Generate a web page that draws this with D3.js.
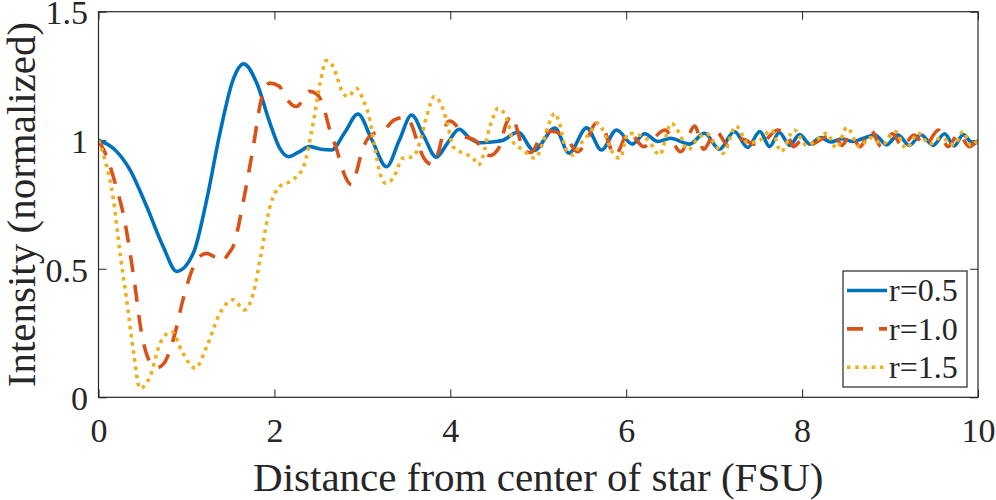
<!DOCTYPE html>
<html>
<head>
<meta charset="utf-8">
<script src="https://cdn.jsdelivr.net/npm/d3@7"></script>
<style>
  body { margin: 0; background: #fff; }
  svg { display: block; }
  text { font-family: "Liberation Serif", "Times New Roman", serif; fill: #262626; }
</style>
</head>
<body>
<svg id="chart" width="996" height="500"></svg>
<script>
var xTicks = [0, 2, 4, 6, 8, 10];
var yTicks = [0, 0.5, 1, 1.5];
var yTickLabels = ["0", "0.5", "1", "1.5"];
var seriesNames = ["r=0.5", "r=1.0", "r=1.5"];

// r=0.5 (solid)
var blueData = [
  [0,1.0],[0.18,0.965],[0.358,0.885],[0.548,0.742],[0.736,0.586],[0.89,0.49],[1.077,0.56],
  [1.23,0.768],[1.38,1.027],[1.53,1.235],[1.65,1.297],[1.80,1.222],[1.95,1.066],[2.06,0.969],
  [2.16,0.936],[2.28,0.955],[2.40,0.975],[2.53,0.965],[2.65,0.962],[2.80,1.03],[2.95,1.102],
  [3.11,1.0],[3.275,0.897],[3.42,1.0],[3.56,1.098],[3.70,1.015],[3.84,0.934],[3.97,0.99],
  [4.10,1.043],[4.22,1.008],[4.34,0.99],[4.47,0.993],[4.60,1.0],[4.77,1.032],[4.95,0.96],
  [5.19,1.047],[5.35,0.95],[5.55,1.048],[5.72,0.962],[5.89,1.04],[6.07,0.985],[6.21,1.025],
  [6.36,0.995],[6.50,1.008],[6.72,0.985],[6.89,1.027],[7.06,0.965],[7.23,1.034],[7.38,0.972],
  [7.52,1.034],[7.63,0.975],[7.74,1.03],[7.86,0.98],[7.97,1.022],[8.09,0.985],[8.21,1.01],
  [8.33,0.993],[8.45,1.006],[8.58,0.995],[8.70,1.008],[8.83,1.02],[8.96,0.982],[9.09,1.02],
  [9.22,0.98],[9.35,1.022],[9.49,0.98],[9.62,1.025],[9.73,0.978],[9.83,1.022],[9.95,0.985],[10,1.0]
];

// r=1.0 (dashed)
var redData = [
  [0,1.0],[0.1,0.93],[0.2,0.82],[0.28,0.716],[0.40,0.47],[0.49,0.249],[0.58,0.14],[0.66,0.115],
  [0.74,0.13],[0.87,0.249],[0.96,0.379],[1.08,0.508],[1.16,0.55],[1.23,0.56],[1.32,0.545],
  [1.40,0.528],[1.48,0.56],[1.53,0.586],[1.65,0.768],[1.76,0.975],[1.85,1.157],[1.95,1.222],
  [2.06,1.209],[2.10,1.183],[2.25,1.131],[2.40,1.19],[2.48,1.18],[2.55,1.14],[2.63,1.04],
  [2.71,0.962],[2.78,0.88],[2.88,0.826],[2.93,0.872],[2.99,0.95],[3.05,1.0],[3.15,1.03],
  [3.22,1.035],[3.37,1.08],[3.50,1.09],[3.56,1.06],[3.62,1.0],[3.70,0.93],[3.80,0.905],
  [3.87,0.96],[3.92,1.03],[3.99,1.075],[4.06,1.06],[4.13,1.02],[4.28,1.0],[4.45,0.94],
  [4.56,0.975],[4.63,1.06],[4.70,1.095],[4.77,1.03],[4.83,0.962],[4.92,0.952],[5.02,1.008],
  [5.15,1.035],[5.32,1.008],[5.45,0.955],[5.55,1.0],[5.66,1.066],[5.74,1.047],[5.87,0.94],
  [6.03,1.03],[6.20,0.975],[6.44,1.04],[6.62,0.955],[6.78,1.055],[6.88,0.965],[7.02,1.035],
  [7.17,0.975],[7.32,1.005],[7.45,0.985],[7.58,1.0],[7.72,1.04],[7.83,1.025],[7.90,0.975],
  [8.00,1.0],[8.10,0.985],[8.25,1.01],[8.37,1.02],[8.45,0.98],[8.55,1.02],[8.66,0.975],
  [8.78,1.04],[8.90,0.975],[9.03,1.025],[9.14,0.975],[9.27,1.02],[9.40,0.98],[9.55,1.04],
  [9.66,0.975],[9.78,1.025],[9.90,0.975],[10,1.01]
];

// r=1.5 (dotted)
var yellowData = [
  [0,1.0],[0.074,0.923],[0.17,0.768],[0.24,0.573],[0.32,0.379],[0.40,0.171],[0.47,0.035],
  [0.585,0.08],[0.70,0.21],[0.83,0.255],[0.96,0.171],[1.10,0.113],[1.23,0.197],[1.38,0.327],
  [1.53,0.379],[1.66,0.34],[1.76,0.405],[1.85,0.56],[1.95,0.742],[2.06,0.82],[2.21,0.846],
  [2.33,0.897],[2.44,1.066],[2.52,1.222],[2.59,1.31],[2.67,1.285],[2.71,1.248],[2.78,1.183],
  [2.84,1.17],[2.93,1.202],[3.01,1.157],[3.085,1.079],[3.14,0.975],[3.20,0.872],[3.26,0.833],
  [3.35,0.852],[3.46,0.93],[3.58,0.936],[3.65,0.988],[3.73,1.092],[3.82,1.17],[3.92,1.118],
  [3.975,1.053],[4.03,0.975],[4.15,0.949],[4.26,0.93],[4.32,0.904],[4.39,0.962],[4.43,1.027],
  [4.49,1.092],[4.54,1.124],[4.60,1.111],[4.66,1.066],[4.71,0.995],[4.83,0.962],[4.96,0.93],
  [5.05,0.988],[5.11,1.053],[5.19,1.105],[5.24,1.066],[5.32,0.962],[5.40,0.943],[5.47,0.98],
  [5.585,1.027],[5.68,1.066],[5.76,1.02],[5.85,0.949],[5.93,0.93],[6.02,1.027],[6.15,1.02],
  [6.25,1.0],[6.38,0.943],[6.51,1.066],[6.60,1.03],[6.70,0.962],[6.80,1.0],[6.91,1.027],
  [7.00,0.99],[7.10,0.949],[7.25,1.055],[7.38,0.99],[7.52,1.0],[7.65,1.04],[7.76,0.956],
  [7.91,1.04],[8.05,0.98],[8.16,1.0],[8.28,1.027],[8.39,0.969],[8.51,1.05],[8.65,0.975],
  [8.78,1.01],[8.92,0.985],[9.06,1.034],[9.18,0.969],[9.32,1.027],[9.45,0.985],[9.58,1.01],
  [9.73,0.982],[9.83,1.034],[9.92,0.98],[10,1.0]
];

var series = [
  { name: seriesNames[0], data: blueData, color: "#0072BD", dash: null },
  { name: seriesNames[1], data: redData, color: "#D95319", dash: "17,13" },
  { name: seriesNames[2], data: yellowData, color: "#EDB120", dash: "3.6,4.6" }
];

var plotLeft = 98.5, plotRight = 978, plotTop = 11.7, plotBottom = 397.3;
var svg = d3.select("#chart");

var x = d3.scaleLinear().domain([0, 10]).range([plotLeft, plotRight]);
var y = d3.scaleLinear().domain([0, 1.5]).range([plotBottom, plotTop]);

var axisColor = "#262626";

// axes (ticks inward like matlab)
var gx = svg.append("g").attr("transform", "translate(0," + plotBottom + ")")
  .call(d3.axisBottom(x).tickValues(xTicks).tickFormat(function(d){ return d; })
    .tickSizeInner(-8).tickSizeOuter(0).tickPadding(21));
var gxTop = svg.append("g").attr("transform", "translate(0," + plotTop + ")")
  .call(d3.axisTop(x).tickValues(xTicks).tickFormat("").tickSizeInner(-8).tickSizeOuter(0));
var gy = svg.append("g").attr("transform", "translate(" + plotLeft + ",0)")
  .call(d3.axisLeft(y).tickValues(yTicks).tickFormat(function(d, i){ return yTickLabels[i]; })
    .tickSizeInner(-8).tickSizeOuter(0).tickPadding(10.5));
var gyRight = svg.append("g").attr("transform", "translate(" + plotRight + ",0)")
  .call(d3.axisRight(y).tickValues(yTicks).tickFormat("").tickSizeInner(-8).tickSizeOuter(0));

[gx, gxTop, gy, gyRight].forEach(function(g){
  g.select(".domain").remove();
  g.selectAll("line").attr("stroke", axisColor).attr("stroke-width", 1);
  g.selectAll("text").attr("font-size", 34).attr("font-family", "Liberation Serif").attr("fill", axisColor);
});
gy.selectAll("text").attr("dy", "0.36em");

// curves
var line = d3.line()
  .x(function(d){ return x(d[0]); })
  .y(function(d){ return y(d[1]); })
  .curve(d3.curveMonotoneX);

svg.append("defs").append("clipPath").attr("id", "plotclip")
  .append("rect").attr("x", plotLeft).attr("y", plotTop)
  .attr("width", plotRight - plotLeft).attr("height", plotBottom - plotTop);

var plot = svg.append("g").attr("clip-path", "url(#plotclip)");
series.forEach(function(s){
  plot.append("path")
    .datum(s.data)
    .attr("d", line)
    .attr("fill", "none")
    .attr("stroke", s.color)
    .attr("stroke-width", 3.6)
    .attr("stroke-dasharray", s.dash);
});

// box
svg.append("rect")
  .attr("x", plotLeft).attr("y", plotTop)
  .attr("width", plotRight - plotLeft).attr("height", plotBottom - plotTop)
  .attr("fill", "none").attr("stroke", axisColor).attr("stroke-width", 1.2);

// axis labels
svg.append("text")
  .attr("x", (plotLeft + plotRight) / 2).attr("y", 491)
  .attr("text-anchor", "middle")
  .attr("font-size", 41)
  .text("Distance from center of star (FSU)");

svg.append("text")
  .attr("transform", "translate(35," + ((plotTop + plotBottom) / 2) + ") rotate(-90)")
  .attr("text-anchor", "middle")
  .attr("font-size", 41)
  .text("Intensity (normalized)");

// legend
var legX = 843, legY = 271, legW = 124, legH = 116;
var leg = svg.append("g");
leg.append("rect")
  .attr("x", legX).attr("y", legY).attr("width", legW).attr("height", legH)
  .attr("fill", "#fff").attr("stroke", axisColor).attr("stroke-width", 1.2);

series.forEach(function(s, i){
  var ry = legY + 19.5 + i * 38.4;
  leg.append("line")
    .attr("x1", legX + 4).attr("x2", legX + 44)
    .attr("y1", ry).attr("y2", ry)
    .attr("stroke", s.color).attr("stroke-width", 3.6)
    .attr("stroke-dasharray", s.name == "r=1.0" ? "16,16" : s.dash);
  leg.append("text")
    .attr("x", legX + 46).attr("y", ry)
    .attr("dy", "0.34em")
    .attr("font-size", 32)
    .text(s.name);
});
</script>
</body>
</html>
